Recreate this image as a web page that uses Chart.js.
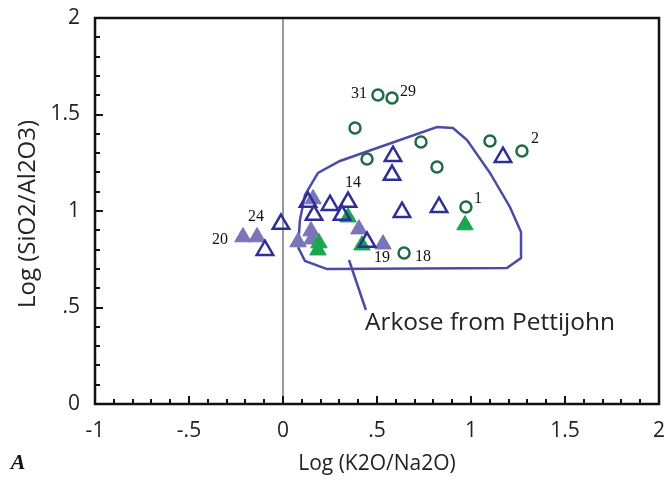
<!DOCTYPE html>
<html>
<head>
<meta charset="utf-8">
<script src="https://cdn.jsdelivr.net/npm/chart.js"></script>
<style>
  html, body { margin: 0; padding: 0; background: #fff; }
  canvas { display: block; }
</style>
</head>
<body>
<canvas id="chart" width="671" height="483"></canvas>
<script>
// tick labels
const xTickLabels = ['-1', '-.5', '0', '.5', '1', '1.5', '2'];
const yTickLabels = ['0', '.5', '1', '1.5', '2'];

// open circles
const circleX = [0.505, 0.580, 0.383, 0.447, 0.734, 0.819, 1.101, 1.271, 0.973, 0.644];
const circleY = [1.601, 1.585, 1.430, 1.269, 1.358, 1.228, 1.363, 1.311, 1.021, 0.782];

// open triangles
const openTriX = [0.585, 0.580, 0.633, 0.830, 1.170, 0.346, 0.250, 0.165, 0.314, 0.447, 0.133, -0.011, -0.096];
const openTriY = [1.284, 1.186, 0.994, 1.020, 1.279, 1.046, 1.030, 0.979, 0.979, 0.839, 1.046, 0.932, 0.797];

// filled purple triangles
const purpleTriX = [-0.213, -0.138, 0.160, 0.149, 0.154, 0.080, 0.404, 0.532];
const purpleTriY = [0.865, 0.865, 1.062, 0.896, 0.854, 0.839, 0.906, 0.828];

// filled green triangles
const greenTriX = [0.346, 0.191, 0.186, 0.420, 0.968];
const greenTriY = [0.968, 0.834, 0.797, 0.823, 0.927];

// "Arkose from Pettijohn" field outline
const fieldX = [0.080, 0.117, 0.234, 1.191, 1.266, 1.266, 1.207, 1.101, 0.979, 0.904, 0.819, 0.303, 0.186, 0.117, 0.090, 0.080];
const fieldY = [0.813, 0.741, 0.699, 0.705, 0.756, 0.891, 1.021, 1.197, 1.368, 1.430, 1.435, 1.259, 1.197, 1.083, 0.953, 0.813];
const pointerX = [0.351, 0.441];
const pointerY = [0.746, 0.487];

// sample numbers
const sampleLabels = ['31', '29', '2', '1', '14', '24', '20', '19', '18'];
const sampleLabelX = [0.404, 0.665, 1.340, 1.037, 0.372, -0.144, -0.335, 0.527, 0.745];
const sampleLabelY = [1.606, 1.617, 1.373, 1.062, 1.145, 0.969, 0.850, 0.756, 0.762];

const pts = (xs, ys) => xs.map((x, i) => ({ x: x, y: ys[i] }));

const frame = {
    id: 'frame',
    afterDatasetsDraw(chart) {
        const { ctx, chartArea: a, scales: { x, y } } = chart;
        ctx.save();
        // sample numbers
        ctx.fillStyle = '#111';
        ctx.font = '16px "Liberation Serif"';
        ctx.textAlign = 'center';
        ctx.textBaseline = 'middle';
        sampleLabels.forEach((t, i) => {
            ctx.fillText(t, x.getPixelForValue(sampleLabelX[i]), y.getPixelForValue(sampleLabelY[i]));
        });
        ctx.font = '24.5px "Open Sans"';
        ctx.textAlign = 'left';
        ctx.fillStyle = '#222';
        ctx.fillText('Arkose from Pettijohn', x.getPixelForValue(0.436), y.getPixelForValue(0.42));
        // inner ticks
        ctx.strokeStyle = '#111';
        ctx.lineWidth = 2;
        ctx.beginPath();
        for (let i = 0; i <= 30; i++) {
            const px = Math.round(x.getPixelForValue(-1 + i / 10));
            const len = i % 5 === 0 ? 8 : 5;
            ctx.moveTo(px, a.bottom);
            ctx.lineTo(px, a.bottom - len);
        }
        for (let i = 0; i <= 20; i++) {
            const py = Math.round(y.getPixelForValue(i / 10));
            const len = i % 5 === 0 ? 8 : 5;
            ctx.moveTo(a.left, py);
            ctx.lineTo(a.left + len, py);
        }
        ctx.stroke();
        ctx.lineWidth = 2.5;
        ctx.strokeRect(a.left, a.top, a.right - a.left, a.bottom - a.top);
        // titles
        ctx.fillStyle = '#222';
        ctx.font = '21px "Open Sans"';
        ctx.textAlign = 'center';
        ctx.fillText('Log (K2O/Na2O)', 377, 464);
        ctx.save();
        ctx.translate(28, 214);
        ctx.rotate(-Math.PI / 2);
        ctx.font = '24px "Open Sans"';
        ctx.fillText('Log (SiO2/Al2O3)', 0, 0);
        ctx.restore();
        ctx.font = 'italic bold 22px "Liberation Serif"';
        ctx.fillStyle = '#111';
        ctx.fillText('A', 18, 463);
        ctx.restore();
    },
    beforeDatasetsDraw(chart) {
        const { ctx, chartArea: a, scales: { x } } = chart;
        const px = Math.round(x.getPixelForValue(0));
        ctx.save();
        ctx.strokeStyle = '#9a9a9a';
        ctx.lineWidth = 2;
        ctx.beginPath();
        ctx.moveTo(px, a.top);
        ctx.lineTo(px, a.bottom);
        ctx.stroke();
        ctx.restore();
    }
};

new Chart(document.getElementById('chart'), {
    type: 'scatter',
    data: {
        datasets: [
            {
                data: pts(circleX, circleY), pointStyle: 'circle', pointRadius: 5.5,
                borderColor: '#1f6b45', backgroundColor: 'rgba(255,255,255,0)', pointBorderWidth: 2.5, order: 1
            },
            {
                data: pts(openTriX, openTriY), pointStyle: 'triangle', pointRadius: 9.5,
                borderColor: '#2e2e96', backgroundColor: 'rgba(255,255,255,0)', pointBorderWidth: 2.5, order: 2
            },
            {
                data: pts(greenTriX, greenTriY), pointStyle: 'triangle', pointRadius: 9.5,
                borderColor: '#1aa64f', backgroundColor: '#1aa64f', pointBorderWidth: 1, order: 3
            },
            {
                data: pts(purpleTriX, purpleTriY), pointStyle: 'triangle', pointRadius: 9.5,
                borderColor: '#7a74b8', backgroundColor: '#7a74b8', pointBorderWidth: 1, order: 4
            },
            {
                type: 'line', data: pts(fieldX, fieldY), showLine: true, pointRadius: 0,
                borderColor: '#4b4ba8', borderWidth: 2.5, tension: 0, fill: false, order: 5
            },
            {
                type: 'line', data: pts(pointerX, pointerY), showLine: true, pointRadius: 0,
                borderColor: '#4b4ba8', borderWidth: 2.5, tension: 0, fill: false, order: 5
            }
        ]
    },
    options: {
        responsive: false,
        animation: false,
        layout: { padding: { top: 18, right: 11, left: 0, bottom: 0 } },
        plugins: { legend: { display: false }, tooltip: { enabled: false } },
        scales: {
            x: {
                type: 'linear', min: -1, max: 2,
                afterFit: s => { s.height = 79; s.paddingLeft = 0; s.paddingRight = 0; },
                afterBuildTicks: s => { s.ticks = xTickLabels.map((t, i) => ({ value: -1 + i * 0.5 })); },
                grid: { display: false, drawTicks: false },
                border: { display: false },
                ticks: {
                    padding: 14, color: '#222', maxRotation: 0, autoSkip: false,
                    font: { family: 'Open Sans', size: 21 },
                    callback: (v, i) => xTickLabels[i]
                }
            },
            y: {
                type: 'linear', min: 0, max: 2,
                afterFit: s => { s.width = 95; s.paddingTop = 0; s.paddingBottom = 0; },
                afterBuildTicks: s => { s.ticks = yTickLabels.map((t, i) => ({ value: i * 0.5 })); },
                grid: { display: false, drawTicks: false },
                border: { display: false },
                ticks: {
                    padding: 15, color: '#222', autoSkip: false,
                    font: { family: 'Open Sans', size: 21 },
                    callback: (v, i) => yTickLabels[i]
                }
            }
        }
    },
    plugins: [frame]
});
</script>
</body>
</html>
